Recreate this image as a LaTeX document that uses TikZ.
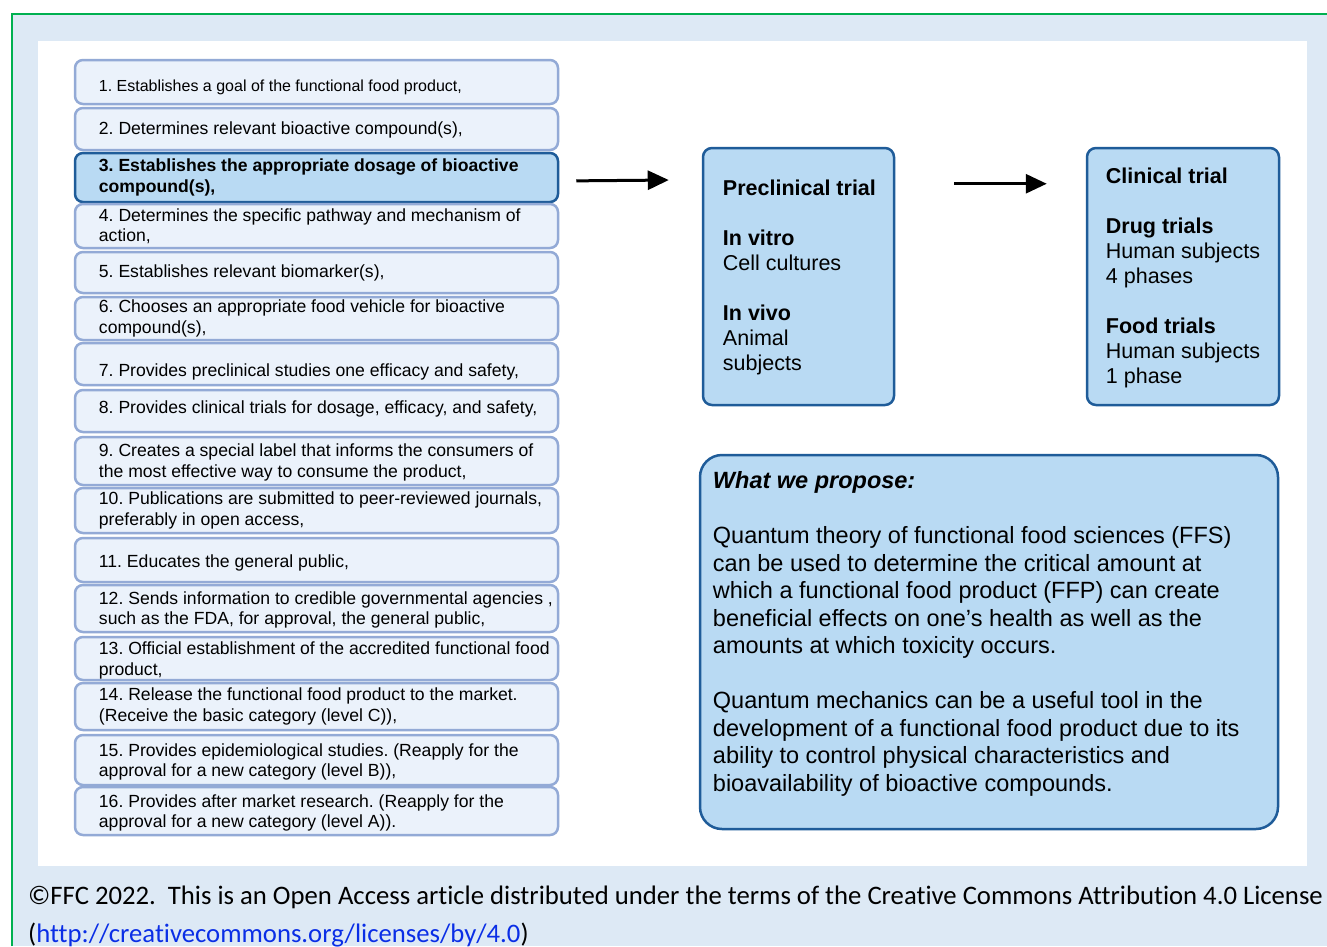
\documentclass[tikz,border=0pt]{standalone}
\usepackage{fontspec}
\setmainfont{Liberation Sans}
\newfontfamily\footfont[Ligatures=NoCommon]{Carlito}
\usetikzlibrary{arrows.meta}
\frenchspacing

\definecolor{pagebg}{HTML}{DDE9F5}
\definecolor{frameline}{HTML}{00B050}
\definecolor{itemfill}{HTML}{EBF2FB}
\definecolor{itemline}{HTML}{93AAD6}
\definecolor{hifill}{HTML}{B9DAF3}
\definecolor{hiline}{HTML}{1F5C99}
\definecolor{linkblue}{HTML}{0A2EE6}

\tikzset{
  itembox/.style={draw=itemline, fill=itemfill, line width=2.5pt,
    rounded corners=8pt, minimum width=483pt, inner sep=0pt},
  hibox/.style={itembox, draw=hiline, fill=hifill},
  itemtext/.style={anchor=west, align=left, inner sep=0pt,
    font=\fontsize{17.6}{20.5}\selectfont},
  trialbox/.style={draw=hiline, fill=hifill, line width=2.5pt,
    rounded corners=9pt, inner sep=0pt},
  trialtext/.style={anchor=north west, align=left, inner sep=0pt,
    font=\fontsize{21.5}{25}\selectfont},
  flowarrow/.style={line width=3pt, -{Triangle[length=21pt,width=19pt]}},
  foottext/.style={anchor=base west, inner sep=0pt,
    font=\footfont\fontsize{26.7}{30}\selectfont}
}

\begin{document}
\begin{tikzpicture}[x=1pt,y=-1pt]

\useasboundingbox (0,0) rectangle (1327,946);

% Page and frame
\fill[pagebg] (12,14) rectangle (1327,946);
\draw[frameline, line width=2pt] (12,946) -- (12,14) -- (1327,14);
\fill[white] (38,41) rectangle (1307,866);

% Steps
\node[itembox, minimum height=44pt] (s1) at (316.5,82) {};
\node[itemtext, font=\fontsize{16}{20}\selectfont] (t1) at ([xshift=25pt,yshift=-5pt]s1.west)
    {1. Establishes a goal of the functional food product,};

\node[itembox, minimum height=42pt] (s2) at (316.5,129) {};
\node[itemtext] (t2) at ([xshift=25pt,yshift=-1pt]s2.west)
    {2. Determines relevant bioactive compound(s),};

\node[hibox, minimum height=49pt] (s3) at (316.5,177.5) {};
\node[itemtext, font=\bfseries\fontsize{17.6}{20.5}\selectfont] (t3) at ([xshift=25pt]s3.west)
    {3. Establishes the appropriate dosage of bioactive\\compound(s),};

\node[itembox, minimum height=44pt] (s4) at (316.5,226) {};
\node[itemtext] (t4) at ([xshift=25pt]s4.west)
    {4. Determines the specific pathway and mechanism of\\action,};

\node[itembox, minimum height=41pt] (s5) at (316.5,272.5) {};
\node[itemtext] (t5) at ([xshift=25pt]s5.west)
    {5. Establishes relevant biomarker(s),};

\node[itembox, minimum height=43pt] (s6) at (316.5,318.5) {};
\node[itemtext] (t6) at ([xshift=25pt]s6.west)
    {6. Chooses an appropriate food vehicle for bioactive\\compound(s),};

\node[itembox, minimum height=42pt] (s7) at (316.5,364) {};
\node[itemtext] (t7) at ([xshift=25pt,yshift=-8pt]s7.west)
    {7. Provides preclinical studies one efficacy and safety,};

\node[itembox, minimum height=42pt] (s8) at (316.5,411) {};
\node[itemtext] (t8) at ([xshift=25pt,yshift=2pt]s8.west)
    {8. Provides clinical trials for dosage, efficacy, and safety,};

\node[itembox, minimum height=48pt] (s9) at (316.5,461) {};
\node[itemtext] (t9) at ([xshift=25pt,yshift=-1.5pt]s9.west)
    {9. Creates a special label that informs the consumers of\\the most effective way to consume the product,};

\node[itembox, minimum height=45pt] (s10) at (316.5,510.5) {};
\node[itemtext] (t10) at ([xshift=25pt]s10.west)
    {10. Publications are submitted to peer-reviewed journals,\\preferably in open access,};

\node[itembox, minimum height=44pt] (s11) at (316.5,560) {};
\node[itemtext] (t11) at ([xshift=25pt,yshift=-3pt]s11.west)
    {11. Educates the general public,};

\node[itembox, minimum height=47pt] (s12) at (316.5,608.5) {};
\node[itemtext] (t12) at ([xshift=25pt,yshift=-1.5pt]s12.west)
    {12. Sends information to credible governmental agencies ,\\such as the FDA, for approval, the general public,};

\node[itembox, minimum height=43pt] (s13) at (316.5,658.5) {};
\node[itemtext] (t13) at ([xshift=25pt,yshift=-2pt]s13.west)
    {13. Official establishment of the accredited functional food\\product,};

\node[itembox, minimum height=47pt] (s14) at (316.5,706.5) {};
\node[itemtext] (t14) at ([xshift=25pt]s14.west)
    {14. Release the functional food product to the market.\\(Receive the basic category (level C)),};

\node[itembox, minimum height=50pt] (s15) at (316.5,760) {};
\node[itemtext] (t15) at ([xshift=25pt,yshift=-2pt]s15.west)
    {15. Provides epidemiological studies. (Reapply for the\\approval for a new category (level B)),};

\node[itembox, minimum height=48pt] (s16) at (316.5,811) {};
\node[itemtext] (t16) at ([xshift=25pt,yshift=-2pt]s16.west)
    {16. Provides after market research. (Reapply for the\\approval for a new category (level A)).};

% Trials
\node[trialbox, minimum width=191pt, minimum height=257pt] (pre) at (798.5,276.5) {};
\node[trialtext] (pretxt) at ([xshift=21pt,yshift=-33pt]pre.north west)
    {\textbf{Preclinical trial}\\[25pt]
     \textbf{In vitro}\\Cell cultures\\[25pt]
     \textbf{In vivo}\\Animal\\subjects};

\node[trialbox, minimum width=192pt, minimum height=257pt] (clin) at (1183,276.5) {};
\node[trialtext] (clintxt) at ([xshift=20pt,yshift=-21pt]clin.north west)
    {\textbf{Clinical trial}\\[25pt]
     \textbf{Drug trials}\\Human subjects\\4 phases\\[25pt]
     \textbf{Food trials}\\Human subjects\\1 phase};

\draw[flowarrow, shorten <=17pt, shorten >=33pt]
    ([yshift=-3.5pt]s3.east) -- ([yshift=-33pt]pre.north west);
\draw[flowarrow, shorten <=59pt, shorten >=39pt]
    ([yshift=-37pt]pre.north east) -- ([yshift=-37pt]clin.north west);

% Proposal
\node[trialbox, rounded corners=22pt, minimum width=578pt, minimum height=374pt] (prop) at (989,642) {};
\node[trialtext, font=\fontsize{23.5}{27.5}\selectfont] (proptxt) at ([xshift=14pt,yshift=-18pt]prop.north west)
    {\textbf{\textit{What we propose:}}\\[27.5pt]
     Quantum theory of functional food sciences (FFS)\\
     can be used to determine the critical amount at\\
     which a functional food product (FFP) can create\\
     beneficial effects on one's health as well as the\\
     amounts at which toxicity occurs.\\[27.5pt]
     Quantum mechanics can be a useful tool in the\\
     development of a functional food product due to its\\
     ability to control physical characteristics and\\
     bioavailability of bioactive compounds.};

% Licence line
\node[foottext] (foot1) at (28,904)
    {©FFC 2022.\ \ This is an Open Access article distributed under the terms of the Creative Commons Attribution 4.0 License};
\node[foottext] (foot2) at (28,942)
    {(\textcolor{linkblue}{http://creativecommons.org/licenses/by/4.0})};

\end{tikzpicture}
\end{document}
